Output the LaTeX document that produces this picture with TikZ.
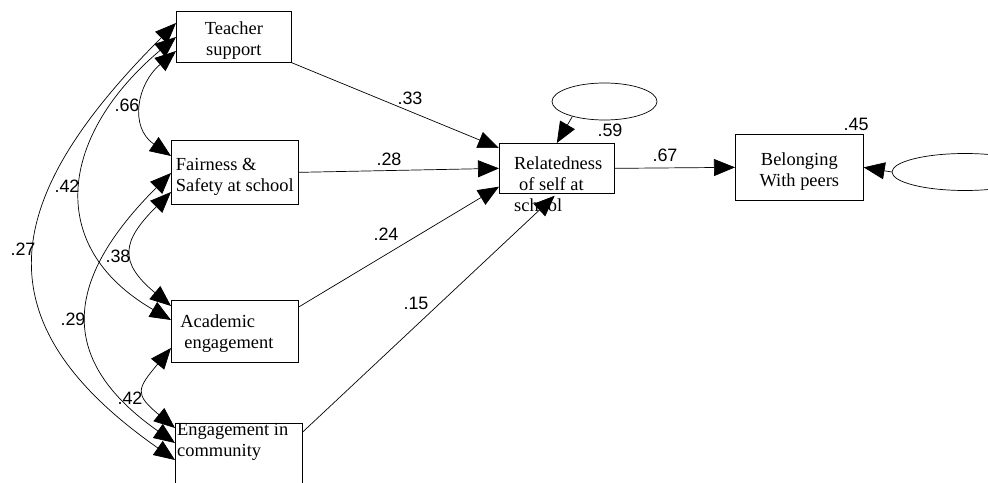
\documentclass[tikz,border=0pt]{standalone}
\usepackage{fontspec}
\setmainfont{Liberation Serif}
\newfontfamily\coeffont{Liberation Sans}
\usetikzlibrary{arrows.meta,shapes.geometric,calc}
% extra height on a first line, so that box text sits a little lower
\newcommand\tallstrut{\rule{0pt}{21bp}}

\begin{document}
\begin{tikzpicture}[x=1bp,y=-1bp,
  tip/.tip={Triangle[length=21bp,width=17bp]},
  varbox/.style={draw, line width=0.7bp, anchor=north west, inner ysep=0pt,
    font=\fontsize{18.5}{21}\selectfont},
  vartext/.style={anchor=north west, inner sep=0pt, align=left,
    font=\fontsize{18.5}{21}\selectfont},
  coef/.style={inner sep=0pt, font=\coeffont\fontsize{18}{18}\selectfont},
  errterm/.style={ellipse, draw, line width=0.7bp, inner sep=0pt},
  pathline/.style={-tip, line width=0.7bp},
  covline/.style={tip-tip, line width=0.7bp}
]
\useasboundingbox (0,0) rectangle (988,483);
\clip (0,0) rectangle (988,483);

% observed variables
\node[varbox, minimum width=115bp, minimum height=51bp, align=center, inner xsep=2pt]
  (teacher) at (176,11) {\tallstrut Teacher\\support};
\node[varbox, minimum width=127bp, minimum height=64bp, align=left, inner xsep=0pt]
  (fair) at (171,140) {\tallstrut Fairness \&\\Safety at school};
\node[varbox, minimum width=127bp, minimum height=62bp, align=left,
  inner xsep=9bp, text width=109bp]
  (acad) at (171,300) {\rule{0pt}{17bp}Academic\\\hspace*{4bp}engagement};
\node[varbox, minimum width=127bp, minimum height=72bp] (comm) at (175,423) {};
\node[vartext] (commtext) at (177,423.5) {Engagement in\\community};
\node[varbox, minimum width=115bp, minimum height=50bp] (rel) at (499,143) {};
\node[vartext] (reltext) at (514,157) {Relatedness\\\hspace*{5bp}of self at\\school};
\node[varbox, minimum width=128bp, minimum height=66bp, align=center]
  (belong) at (735,134) {\tallstrut Belonging\\With peers};

% error terms
\node[errterm, minimum width=105bp, minimum height=37bp] (e1) at (604.5,101.5) {};
\node[errterm, minimum width=146bp, minimum height=37bp] (e2) at (965,172) {};

% attachment points on the left sides of the boxes
\coordinate (t1) at ($(teacher.north west)+(0,12)$);
\coordinate (t2) at ($(teacher.north west)+(0,26)$);
\coordinate (t3) at ($(teacher.north west)+(0,40)$);
\coordinate (f1) at ($(fair.north west)+(0,16)$);
\coordinate (f2) at ($(fair.north west)+(0,33)$);
\coordinate (f3) at ($(fair.north west)+(0,52)$);
\coordinate (a1) at ($(acad.north west)+(0,6)$);
\coordinate (a2) at ($(acad.north west)+(0,20)$);
\coordinate (a3) at ($(acad.north west)+(0,48)$);
\coordinate (c1) at ($(comm.north west)+(0,5)$);
\coordinate (c2) at ($(comm.north west)+(0,20)$);
\coordinate (c3) at ($(comm.north west)+(0,37)$);

% attachment points on the relatedness box
\coordinate (r1) at ($(rel.north west)+(0,5)$);
\coordinate (r3) at ($(rel.south west)+(0,-7)$);
\coordinate (acadout) at ($(acad.north east)+(0,7)$);
\coordinate (commout) at ($(comm.north east)+(0,9)$);

% correlations
\draw[covline] (t3) .. controls +(-39,33) and +(-42,-29) .. (f1);
\draw[covline] (t2) .. controls +(-114,96) and +(-129,-75) .. (a2);
\draw[covline] (t1) .. controls +(-173,173) and +(-200,-140) .. (c3);
\draw[covline] (f3) .. controls +(-49,49) and +(-53,-44) .. (a1);
\draw[covline] (f2) .. controls +(-105,105) and +(-121,-85) .. (c2);
\draw[covline] (a3) .. controls +(-34,41) and +(-41,-34) .. (c1);

% regression paths
\draw[pathline] (teacher.south east) -- (r1);
\draw[pathline] (fair.east) -- (rel.west);
\draw[pathline] (acadout) -- (r3);
\draw[pathline, shorten >=3bp] (commout) -- (rel.south);
\draw[pathline] (rel.east) -- (belong.west);
\draw[pathline] (e1.205) -- (rel.north);
\draw[pathline] (e2.west) -- (belong.east);

% coefficients
\node[coef] (k66) at (127,105) {.66};
\node[coef] (k42a) at (67,186) {.42};
\node[coef] (k27) at (23,249) {.27};
\node[coef] (k38) at (118,256) {.38};
\node[coef] (k29) at (73,319) {.29};
\node[coef] (k42b) at (130,398) {.42};
\node[coef] (k33) at (410,98) {.33};
\node[coef] (k28) at (389,159) {.28};
\node[coef] (k24) at (386,234) {.24};
\node[coef] (k15) at (416,303) {.15};
\node[coef] (k59) at (610,130) {.59};
\node[coef] (k67) at (665,155) {.67};
\node[coef] (k45) at (856,124) {.45};
\end{tikzpicture}
\end{document}
